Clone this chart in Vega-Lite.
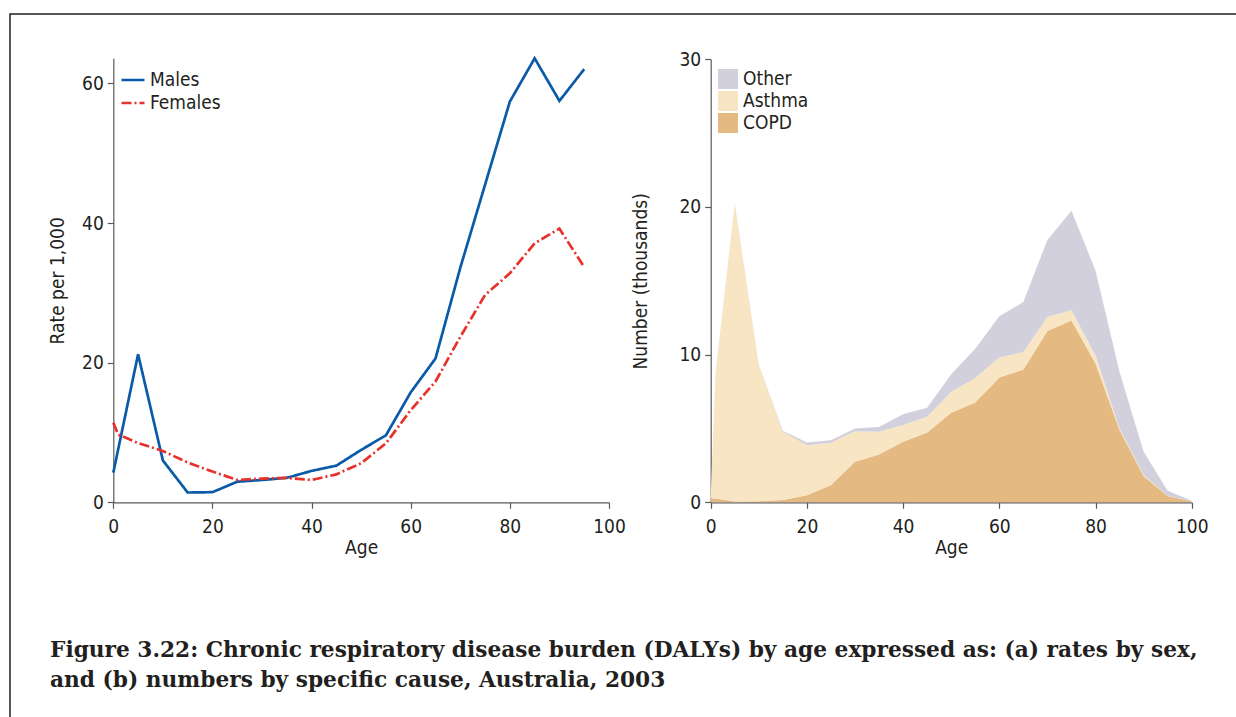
{
  "$schema": "https://vega.github.io/schema/vega-lite/v6.json",
  "width": 1230,
  "height": 707,
  "autosize": {"type": "none"},
  "padding": {"left": 10, "top": 14, "right": -4, "bottom": -4},
  "background": "white",
  "config": {
    "view": {"stroke": "#231f20", "strokeWidth": 1.5},
    "font": "Liberation Sans Narrow, DejaVu Sans Condensed, sans-serif",
    "axis": {
      "grid": false,
      "domainColor": "#58595b",
      "domainWidth": 1.2,
      "tickColor": "#58595b",
      "tickWidth": 1.2,
      "tickSize": 6,
      "labelFontSize": 19,
      "titleFontSize": 19,
      "labelColor": "#231f20",
      "titleColor": "#231f20",
      "titleFontWeight": "normal",
      "labelPadding": 4,
      "labelFlush": false
    },
    "legend": {
      "labelFontSize": 19,
      "labelColor": "#231f20",
      "padding": 0,
      "rowPadding": 0
    }
  },
  "title": {
    "text": [
      "Figure 3.22: Chronic respiratory disease burden (DALYs) by age expressed as: (a) rates by sex,",
      "and (b) numbers by specific cause, Australia, 2003"
    ],
    "orient": "bottom",
    "anchor": "start",
    "frame": "group",
    "offset": -81,
    "dx": 40,
    "font": "DejaVu Serif",
    "fontSize": 21.7,
    "fontWeight": "bold",
    "lineHeight": 30,
    "color": "#231f20"
  },
  "datasets": {
    "rates": [
      {"age": 0, "sex": "Males", "rate": 4.25},
      {"age": 5, "sex": "Males", "rate": 21.2},
      {"age": 10, "sex": "Males", "rate": 6.0},
      {"age": 15, "sex": "Males", "rate": 1.4},
      {"age": 20, "sex": "Males", "rate": 1.45},
      {"age": 25, "sex": "Males", "rate": 2.95},
      {"age": 30, "sex": "Males", "rate": 3.2},
      {"age": 35, "sex": "Males", "rate": 3.5},
      {"age": 40, "sex": "Males", "rate": 4.5},
      {"age": 45, "sex": "Males", "rate": 5.25},
      {"age": 50, "sex": "Males", "rate": 7.5},
      {"age": 55, "sex": "Males", "rate": 9.6},
      {"age": 60, "sex": "Males", "rate": 15.75},
      {"age": 65, "sex": "Males", "rate": 20.6},
      {"age": 70, "sex": "Males", "rate": 33.6},
      {"age": 75, "sex": "Males", "rate": 45.5},
      {"age": 80, "sex": "Males", "rate": 57.4},
      {"age": 85, "sex": "Males", "rate": 63.6},
      {"age": 90, "sex": "Males", "rate": 57.5},
      {"age": 95, "sex": "Males", "rate": 62.05},
      {"age": 0, "sex": "Females", "rate": 11.4},
      {"age": 1, "sex": "Females", "rate": 9.7},
      {"age": 5, "sex": "Females", "rate": 8.5},
      {"age": 10, "sex": "Females", "rate": 7.35},
      {"age": 15, "sex": "Females", "rate": 5.7},
      {"age": 20, "sex": "Females", "rate": 4.4},
      {"age": 25, "sex": "Females", "rate": 3.2},
      {"age": 30, "sex": "Females", "rate": 3.4},
      {"age": 35, "sex": "Females", "rate": 3.5},
      {"age": 40, "sex": "Females", "rate": 3.2},
      {"age": 45, "sex": "Females", "rate": 4.0},
      {"age": 50, "sex": "Females", "rate": 5.6},
      {"age": 55, "sex": "Females", "rate": 8.45},
      {"age": 60, "sex": "Females", "rate": 13.2},
      {"age": 65, "sex": "Females", "rate": 17.3},
      {"age": 70, "sex": "Females", "rate": 23.7},
      {"age": 75, "sex": "Females", "rate": 29.7},
      {"age": 80, "sex": "Females", "rate": 32.8},
      {"age": 85, "sex": "Females", "rate": 37.1},
      {"age": 90, "sex": "Females", "rate": 39.2},
      {"age": 95, "sex": "Females", "rate": 33.7}
    ],
    "causes": [
      {"age": 0, "cause": "COPD", "value": 0.27}, {"age": 0, "cause": "Asthma", "value": 0.13}, {"age": 0, "cause": "Other", "value": 0},
      {"age": 1, "cause": "COPD", "value": 0.25}, {"age": 1, "cause": "Asthma", "value": 8.45}, {"age": 1, "cause": "Other", "value": 0.05},
      {"age": 5, "cause": "COPD", "value": 0.05}, {"age": 5, "cause": "Asthma", "value": 20.15}, {"age": 5, "cause": "Other", "value": 0.05},
      {"age": 10, "cause": "COPD", "value": 0.07}, {"age": 10, "cause": "Asthma", "value": 9.21}, {"age": 10, "cause": "Other", "value": 0.04},
      {"age": 15, "cause": "COPD", "value": 0.15}, {"age": 15, "cause": "Asthma", "value": 4.62}, {"age": 15, "cause": "Other", "value": 0.07},
      {"age": 20, "cause": "COPD", "value": 0.47}, {"age": 20, "cause": "Asthma", "value": 3.4}, {"age": 20, "cause": "Other", "value": 0.18},
      {"age": 25, "cause": "COPD", "value": 1.17}, {"age": 25, "cause": "Asthma", "value": 2.86}, {"age": 25, "cause": "Other", "value": 0.17},
      {"age": 30, "cause": "COPD", "value": 2.75}, {"age": 30, "cause": "Asthma", "value": 2.07}, {"age": 30, "cause": "Other", "value": 0.18},
      {"age": 35, "cause": "COPD", "value": 3.24}, {"age": 35, "cause": "Asthma", "value": 1.53}, {"age": 35, "cause": "Other", "value": 0.33},
      {"age": 40, "cause": "COPD", "value": 4.1}, {"age": 40, "cause": "Asthma", "value": 1.13}, {"age": 40, "cause": "Other", "value": 0.73},
      {"age": 45, "cause": "COPD", "value": 4.73}, {"age": 45, "cause": "Asthma", "value": 1.06}, {"age": 45, "cause": "Other", "value": 0.61},
      {"age": 50, "cause": "COPD", "value": 6.06}, {"age": 50, "cause": "Asthma", "value": 1.42}, {"age": 50, "cause": "Other", "value": 1.19},
      {"age": 55, "cause": "COPD", "value": 6.76}, {"age": 55, "cause": "Asthma", "value": 1.66}, {"age": 55, "cause": "Other", "value": 1.98},
      {"age": 60, "cause": "COPD", "value": 8.45}, {"age": 60, "cause": "Asthma", "value": 1.35}, {"age": 60, "cause": "Other", "value": 2.8},
      {"age": 65, "cause": "COPD", "value": 8.99}, {"age": 65, "cause": "Asthma", "value": 1.19}, {"age": 65, "cause": "Other", "value": 3.38},
      {"age": 70, "cause": "COPD", "value": 11.6}, {"age": 70, "cause": "Asthma", "value": 0.95}, {"age": 70, "cause": "Other", "value": 5.22},
      {"age": 75, "cause": "COPD", "value": 12.32}, {"age": 75, "cause": "Asthma", "value": 0.68}, {"age": 75, "cause": "Other", "value": 6.75},
      {"age": 80, "cause": "COPD", "value": 9.4}, {"age": 80, "cause": "Asthma", "value": 0.55}, {"age": 80, "cause": "Other", "value": 5.75},
      {"age": 85, "cause": "COPD", "value": 4.9}, {"age": 85, "cause": "Asthma", "value": 0.1}, {"age": 85, "cause": "Other", "value": 3.83},
      {"age": 90, "cause": "COPD", "value": 1.78}, {"age": 90, "cause": "Asthma", "value": 0.07}, {"age": 90, "cause": "Other", "value": 1.57},
      {"age": 95, "cause": "COPD", "value": 0.43}, {"age": 95, "cause": "Asthma", "value": 0.02}, {"age": 95, "cause": "Other", "value": 0.34},
      {"age": 100, "cause": "COPD", "value": 0.05}, {"age": 100, "cause": "Asthma", "value": 0.0}, {"age": 100, "cause": "Other", "value": 0.06}
    ]
  },
  "layer": [
    {
      "data": {"name": "rates"},
      "mark": {"type": "line", "strokeWidth": 2.7, "interpolate": "linear"},
      "encoding": {
        "x": {
          "field": "age", "type": "quantitative",
          "scale": {"domain": [0, 100], "range": [103.3, 599], "nice": false},
          "axis": {"orient": "bottom", "offset": -218.7, "values": [0, 20, 40, 60, 80, 100], "title": "Age", "titlePadding": 2, "labelPadding": 9}
        },
        "y": {
          "field": "rate", "type": "quantitative",
          "scale": {"domain": [0, 63.6], "range": [488.3, 44.3], "nice": false, "zero": true},
          "axis": {"orient": "left", "offset": -103.3, "values": [0, 20, 40, 60], "title": "Rate per 1,000", "titlePadding": 14}
        },
        "color": {
          "field": "sex", "type": "nominal",
          "scale": {"domain": ["Males", "Females"], "range": ["#0a5aa8", "#e8312a"]},
          "legend": {"orient": "none", "legendX": 110, "legendY": 53, "title": null, "symbolType": "stroke", "symbolSize": 529, "symbolStrokeWidth": 2.7, "labelOffset": 4}
        },
        "strokeDash": {
          "field": "sex", "type": "nominal",
          "scale": {"domain": ["Males", "Females"], "range": [[1, 0], [10, 3, 2, 3]]},
          "legend": {"orient": "none", "legendX": 110, "legendY": 53, "title": null, "symbolType": "stroke", "symbolSize": 529, "symbolStrokeWidth": 2.7, "labelOffset": 4}
        }
      }
    },
    {
      "data": {"name": "causes"},
      "transform": [
        {"calculate": "indexof(['COPD', 'Asthma', 'Other'], datum.cause)", "as": "stack_order"}
      ],
      "mark": {"type": "area", "interpolate": "linear"},
      "encoding": {
        "x": {
          "field": "age", "type": "quantitative",
          "scale": {"domain": [0, 100], "range": [700.7, 1181.7], "nice": false},
          "axis": {"orient": "bottom", "offset": -218.7, "values": [0, 20, 40, 60, 80, 100], "title": "Age", "titlePadding": 2, "labelPadding": 9}
        },
        "y": {
          "field": "value", "type": "quantitative", "stack": "zero",
          "scale": {"domain": [0, 30], "range": [488.3, 45.3], "nice": false},
          "axis": {"orient": "left", "offset": -700.7, "values": [0, 10, 20, 30], "title": "Number (thousands)", "titlePadding": 28}
        },
        "order": {"field": "stack_order", "type": "quantitative", "sort": "ascending"},
        "color": {
          "field": "cause", "type": "nominal",
          "scale": {"domain": ["Other", "Asthma", "COPD"], "range": ["#d1d0dc", "#f8e5c4", "#e4b982"]},
          "legend": {"orient": "none", "legendX": 708, "legendY": 55, "title": null, "symbolType": "square", "symbolSize": 400, "symbolStrokeWidth": 0, "rowPadding": 2, "labelOffset": 5}
        }
      }
    }
  ],
  "resolve": {
    "scale": {"x": "independent", "y": "independent", "color": "independent", "strokeDash": "independent"},
    "axis": {"x": "independent", "y": "independent"},
    "legend": {"color": "independent", "strokeDash": "independent"}
  }
}
